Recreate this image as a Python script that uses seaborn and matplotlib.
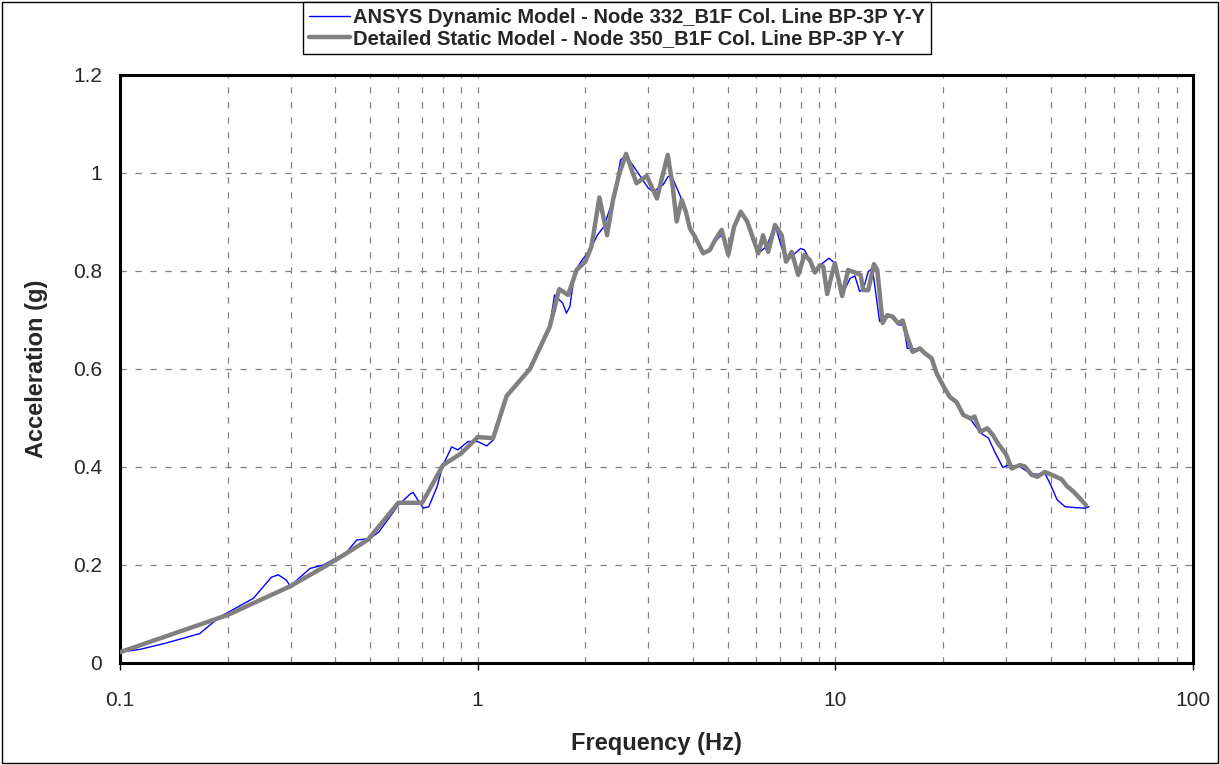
import numpy as np
import pandas as pd
import matplotlib
matplotlib.use("Agg")
import matplotlib.pyplot as plt
import seaborn as sns
from matplotlib.ticker import FixedLocator, FixedFormatter, NullFormatter
from matplotlib.patches import Rectangle

# ---- data ----
dyn_freq = [0.1, 0.114, 0.135, 0.167, 0.19, 0.236, 0.265, 0.277, 0.292, 0.299, 0.34, 0.37, 0.43,
            0.459, 0.5, 0.53, 0.6, 0.65, 0.66, 0.68, 0.705, 0.73, 0.77, 0.8, 0.846, 0.88, 0.94,
            1.0, 1.06, 1.105, 1.205, 1.4, 1.59, 1.64, 1.73, 1.77, 1.81, 1.87, 1.95, 2.08, 2.16,
            2.25, 2.39, 2.51, 2.6, 2.75, 3.0, 3.1, 3.3, 3.41, 3.49, 3.69, 3.92, 4.05, 4.27, 4.46,
            4.61, 4.86, 5.02, 5.21, 5.44, 5.67, 5.89, 6.09, 6.42, 6.78, 6.98, 7.28, 7.63, 8.0,
            8.2, 8.49, 8.77, 9.06, 9.6, 9.97, 10.45, 11.0, 11.34, 11.7, 12.0, 12.36, 12.7, 13.2,
            13.3, 13.96, 14.45, 15.0, 15.5, 15.9, 16.2, 17.24, 17.81, 18.58, 19.2, 20.2, 20.9,
            21.8, 22.8, 23.9, 25.4, 26.8, 27.9, 29.4, 30.5, 32.8, 35.0, 36.7, 38.5, 39.8, 41.7,
            43.9, 47.0, 50.0, 51.2]
dyn_acc = [0.022, 0.028, 0.041, 0.060, 0.094, 0.132, 0.175, 0.180, 0.169, 0.157, 0.193, 0.200, 0.226,
           0.251, 0.254, 0.268, 0.322, 0.346, 0.348, 0.333, 0.316, 0.319, 0.360, 0.404, 0.441, 0.435, 0.452,
           0.452, 0.443, 0.455, 0.545, 0.600, 0.686, 0.751, 0.734, 0.714, 0.727, 0.800, 0.820, 0.848, 0.873,
           0.890, 0.945, 1.027, 1.035, 1.010, 0.969, 0.962, 0.976, 0.993, 0.993, 0.952, 0.887, 0.865, 0.836, 0.840,
           0.860, 0.877, 0.829, 0.890, 0.921, 0.901, 0.860, 0.836, 0.850, 0.894, 0.863, 0.819, 0.833, 0.846,
           0.843, 0.822, 0.800, 0.812, 0.826, 0.816, 0.752, 0.785, 0.790, 0.758, 0.765, 0.799, 0.805, 0.714,
           0.697, 0.706, 0.705, 0.690, 0.690, 0.642, 0.642, 0.640, 0.630, 0.620, 0.588, 0.556, 0.540,
           0.530, 0.504, 0.497, 0.470, 0.459, 0.431, 0.399, 0.404, 0.401, 0.387, 0.385, 0.388, 0.367, 0.333,
           0.319, 0.317, 0.316, 0.319]

sta_freq = [0.1, 0.2, 0.3, 0.38, 0.43, 0.494, 0.6, 0.7, 0.8, 0.9, 1.0, 1.105, 1.205, 1.4, 1.59, 1.69,
            1.79, 1.89, 2.0, 2.08, 2.19, 2.3, 2.39, 2.49, 2.6, 2.78, 2.97, 3.17, 3.4, 3.51, 3.6, 3.72,
            3.82, 3.92, 4.05, 4.27, 4.46, 4.61, 4.81, 5.02, 5.21, 5.44, 5.67, 5.87, 6.09, 6.28, 6.49,
            6.78, 7.08, 7.28, 7.55, 7.87, 8.2, 8.49, 8.77, 9.06, 9.25, 9.49, 9.77, 9.97, 10.45, 10.86,
            11.34, 11.77, 11.97, 12.36, 12.82, 13.1, 13.56, 13.96, 14.45, 15.0, 15.42, 15.88, 16.44,
            17.24, 17.81, 18.58, 19.2, 20.2, 20.9, 21.8, 22.8, 23.9, 24.5, 25.4, 26.6, 27.6, 28.5,
            29.4, 30.1, 31.1, 32.8, 33.9, 35.4, 36.7, 38.5, 40.3, 42.9, 44.4, 46.3, 48.3, 50.2]
sta_acc = [0.022, 0.098, 0.157, 0.200, 0.224, 0.252, 0.327, 0.327, 0.404, 0.428, 0.461, 0.459, 0.545, 0.600, 0.686, 0.763,
           0.751, 0.802, 0.819, 0.850, 0.950, 0.873, 0.945, 0.999, 1.039, 0.979, 0.994, 0.948, 1.037, 0.972, 0.901, 0.945,
           0.921, 0.887, 0.870, 0.836, 0.843, 0.863, 0.884, 0.833, 0.890, 0.921, 0.901, 0.870, 0.836, 0.873, 0.839,
           0.894, 0.873, 0.819, 0.839, 0.792, 0.833, 0.822, 0.797, 0.812, 0.809, 0.753, 0.792, 0.816, 0.749, 0.802,
           0.797, 0.792, 0.761, 0.761, 0.814, 0.802, 0.694, 0.710, 0.707, 0.693, 0.699, 0.666, 0.635,
           0.642, 0.632, 0.622, 0.591, 0.561, 0.543, 0.533, 0.506, 0.499, 0.503, 0.472, 0.479, 0.465, 0.448,
           0.435, 0.424, 0.397, 0.404, 0.401, 0.384, 0.380, 0.390, 0.384, 0.375, 0.361, 0.350, 0.336, 0.322]

dyn_label = "ANSYS Dynamic Model - Node 332_B1F Col. Line BP-3P Y-Y"
sta_label = "Detailed Static Model - Node 350_B1F Col. Line BP-3P Y-Y"
x_ticks = [0.1, 1, 10, 100]
x_tick_labels = ["0.1", "1", "10", "100"]
y_ticks = [0, 0.2, 0.4, 0.6, 0.8, 1.0, 1.2]
y_tick_labels = ["0", "0.2", "0.4", "0.6", "0.8", "1", "1.2"]

sns.set_theme(style="white")
plt.rcParams['font.family'] = ['Liberation Sans', 'DejaVu Sans']

fig = plt.figure(figsize=(12.2, 7.65), dpi=100)
ax = fig.add_axes([120/1220, 1-663/765, (1193-120)/1220, (663-75)/765])
ax.set_xscale('log')

df_dyn = pd.DataFrame({"freq": dyn_freq, "acc": dyn_acc})
df_sta = pd.DataFrame({"freq": sta_freq, "acc": sta_acc})
sns.lineplot(data=df_dyn, x="freq", y="acc", ax=ax, color="#0000FF", linewidth=1.0,
             estimator=None, sort=False, label=dyn_label, zorder=3)
sns.lineplot(data=df_sta, x="freq", y="acc", ax=ax, color="#808080", linewidth=3.2,
             estimator=None, sort=False, label=sta_label, zorder=4)

ax.set_xlim(0.1, 100)
ax.set_ylim(0, 1.2)
ax.xaxis.set_major_locator(FixedLocator(x_ticks))
ax.xaxis.set_major_formatter(FixedFormatter(x_tick_labels))
minor = [m * 10.0**e for e in (-1, 0, 1) for m in range(2, 10)]
ax.xaxis.set_minor_locator(FixedLocator(minor))
ax.xaxis.set_minor_formatter(NullFormatter())
ax.yaxis.set_major_locator(FixedLocator(y_ticks))
ax.yaxis.set_major_formatter(FixedFormatter(y_tick_labels))

grid_kw = dict(color="#808080", linewidth=0.9, linestyle=(0, (5, 7)))
ax.grid(True, which="major", axis="both", **grid_kw)
ax.grid(True, which="minor", axis="x", **grid_kw)

ax.tick_params(axis="x", which="major", direction="out", length=5, width=1, color="black",
               labelsize=15, pad=15, bottom=True)
ax.tick_params(axis="x", which="minor", length=0)
ax.tick_params(axis="y", which="major", length=0, labelsize=15, pad=13, left=True)

for s in ax.spines.values():
    s.set_color("black")
    s.set_linewidth(2.2)

ax.set_xlabel("Frequency (Hz)", fontsize=17, fontweight="bold", labelpad=16)
ax.set_ylabel("Acceleration (g)", fontsize=17, fontweight="bold", labelpad=18)

ax.get_legend().remove()
handles, labels = ax.get_legend_handles_labels()
leg = fig.legend(handles, labels, loc="upper center", bbox_to_anchor=(617/1220, 1-2/765),
                 borderaxespad=0, frameon=True, fancybox=False, framealpha=1, edgecolor="black",
                 prop={"weight": "bold", "size": 14.5}, handlelength=2.0, handletextpad=0.15,
                 borderpad=0.3, labelspacing=0.1)
leg.get_frame().set_linewidth(1.0)

fig.patches.append(Rectangle((2/1220, 2/765), 1-4/1220, 1-4/765, transform=fig.transFigure,
                             fill=False, edgecolor="black", linewidth=1.0))

fig.savefig("out.png", dpi=100)
